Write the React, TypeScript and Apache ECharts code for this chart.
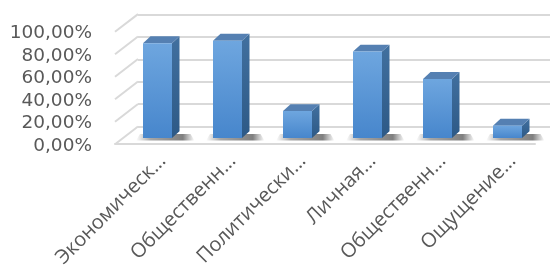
import React, { useEffect, useRef } from "react";
import * as echarts from "echarts";

const categories = [
  "Экономическ...",
  "Общественн...",
  "Политически...",
  "Личная...",
  "Общественн...",
  "Ощущение...",
];
const values = [0.844, 0.866, 0.24, 0.77, 0.526, 0.11];
const yTicks = [0, 0.2, 0.4, 0.6, 0.8, 1.0];

const FONT = "Open Sans";
const TEXT = "#595959";
const GRID = "#d9d9d9";
const DEPTH_X = 23;
const DEPTH_Y = 17.7;

export default function App() {
  const ref = useRef<HTMLDivElement>(null);
  useEffect(() => {
    if (!ref.current) return;
    const chart = echarts.init(ref.current, undefined, { renderer: "svg" });
    const fmt = (v: number) => (v * 100).toFixed(2).replace(".", ",") + "%";
    const option: any = {
      animation: false,
      grid: [
        { left: 138, top: 14.3, width: 420, height: 112.4 },
        { left: 115, top: 31.8, width: 420, height: 112.4 },
        { left: 122.5, top: 25.6, width: 420, height: 112.4 },
        { left: 126.5, top: 25.6, width: 420, height: 112.4 },
      ],
      xAxis: [
        { gridIndex: 0, type: "category", data: categories, show: false },
        {
          gridIndex: 1,
          type: "category",
          data: categories,
          axisLine: { lineStyle: { color: GRID, width: 2 } },
          axisTick: { show: false },
          axisLabel: { show: false },
        },
        { gridIndex: 2, type: "category", data: categories, show: false },
        {
          gridIndex: 3,
          type: "category",
          data: categories,
          axisLine: { show: false },
          axisTick: { show: false },
          axisLabel: {
            rotate: 45,
            interval: 0,
            fontSize: 20,
            fontFamily: FONT,
            color: TEXT,
            margin: 24,
          },
        },
      ],
      yAxis: [
        {
          gridIndex: 0,
          type: "value",
          min: 0,
          max: 1,
          interval: 0.2,
          axisLine: { show: false },
          axisTick: { show: false },
          axisLabel: { show: false },
          splitLine: { lineStyle: { color: GRID, width: 2 } },
        },
        {
          gridIndex: 1,
          type: "value",
          min: 0,
          max: 1,
          interval: 0.2,
          axisLine: { show: false },
          axisTick: { show: false },
          splitLine: { show: false },
          axisLabel: {
            formatter: fmt,
            fontSize: 18.5,
            lineHeight: 20,
            fontFamily: "DejaVu Sans",
            color: TEXT,
            margin: 23,
          },
        },
        { gridIndex: 2, type: "value", min: 0, max: 1, interval: 0.2, show: false },
        { gridIndex: 3, type: "value", min: 0, max: 1, interval: 0.2, show: false },
      ],
      series: [
        {
          type: "custom",
          xAxisIndex: 1,
          yAxisIndex: 1,
          data: yTicks.map((v) => [0, v]),
          silent: true,
          renderItem: (params: any, api: any) => {
            const cs = params.coordSys;
            const y = api.coord([0, api.value(1)])[1];
            return {
              type: "line",
              shape: { x1: cs.x, y1: y, x2: cs.x + DEPTH_X, y2: y - DEPTH_Y },
              style: { stroke: GRID, lineWidth: 2 },
            };
          },
        },
        {
          type: "custom",
          xAxisIndex: 2,
          yAxisIndex: 2,
          data: values.map((v, i) => [i, v]),
          renderItem: (params: any, api: any) => {
            const i = api.value(0);
            const v = api.value(1);
            const top = api.coord([i, v]);
            const base = api.coord([i, 0]);
            const w = 29;
            const dx = 7.5;
            const dy = 6.8;
            const left = top[0] - w / 2;
            const right = left + w;
            const t = top[1];
            const b = base[1];
            return {
              type: "group",
              children: [
                {
                  type: "polygon",
                  shape: {
                    points: [
                      [left - 7, b + 2.5],
                      [right + dx + 15, b + 2.5],
                      [right + dx + 11, b - 4],
                      [left - 3, b - 4],
                    ],
                  },
                  style: {
                    fill: new echarts.graphic.LinearGradient(0, 0, 1, 0, [
                      { offset: 0, color: "rgba(0,0,0,0)" },
                      { offset: 0.25, color: "rgba(0,0,0,0.35)" },
                      { offset: 0.8, color: "rgba(0,0,0,0.5)" },
                      { offset: 1, color: "rgba(0,0,0,0)" },
                    ]),
                  },
                },
                {
                  type: "polygon",
                  shape: {
                    points: [
                      [right, t],
                      [right + dx, t - dy],
                      [right + dx, b - dy],
                      [right, b],
                    ],
                  },
                  style: {
                    fill: new echarts.graphic.LinearGradient(0, 0, 0, 1, [
                      { offset: 0, color: "#41709f" },
                      { offset: 1, color: "#2d5986" },
                    ]),
                  },
                },
                {
                  type: "polygon",
                  shape: {
                    points: [
                      [left, t],
                      [left + dx, t - dy],
                      [right + dx, t - dy],
                      [right, t],
                    ],
                  },
                  style: { fill: "#5580b2" },
                },
                {
                  type: "rect",
                  shape: { x: left, y: t, width: w, height: b - t },
                  style: {
                    fill: new echarts.graphic.LinearGradient(0, 0, 0, 1, [
                      { offset: 0, color: "#6ea6df" },
                      { offset: 1, color: "#4786cc" },
                    ]),
                  },
                },
              ],
            };
          },
        },
      ],
    };
    chart.setOption(option);
    return () => chart.dispose();
  }, []);
  return (
    <div
      ref={ref}
      style={{ position: "fixed", left: 0, top: 0, width: 550, height: 269 }}
    />
  );
}
